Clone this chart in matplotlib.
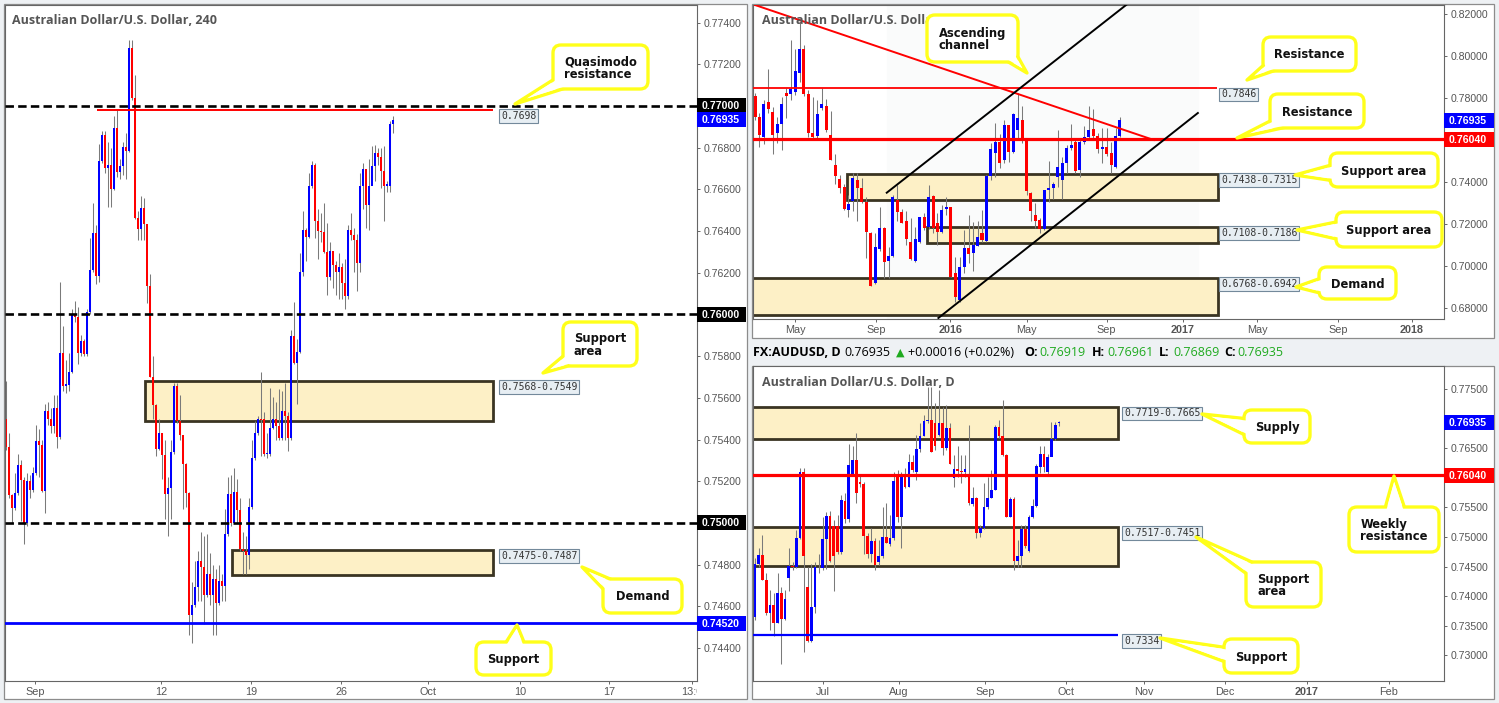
import numpy as np
import matplotlib
matplotlib.use("Agg")
import matplotlib.pyplot as plt
from matplotlib.patches import Rectangle, Polygon, FancyBboxPatch
from matplotlib.transforms import Bbox

# ---------------- 4 hour AUD/USD ----------------
h4_first_open = 0.75501
h4_close = [0.75364, 0.75133, 0.75072, 0.75143, 0.75276, 0.75205, 0.74998, 0.75203, 0.75159, 0.75239,
            0.75394, 0.75376, 0.75153, 0.75537, 0.75501, 0.75467, 0.75551, 0.75414, 0.75813, 0.75658,
            0.75662, 0.75726, 0.76004, 0.75988, 0.75817, 0.75873, 0.75809, 0.76010, 0.76215, 0.76392,
            0.76185, 0.76734, 0.76863, 0.76704, 0.76718, 0.76602, 0.76893, 0.76684, 0.76712, 0.76805,
            0.76783, 0.77276, 0.77040, 0.76461, 0.76412, 0.76511, 0.76433, 0.76135, 0.75702, 0.75567,
            0.75356, 0.75431, 0.75326, 0.75139, 0.75169, 0.75340, 0.75656, 0.75491, 0.75421, 0.75284,
            0.75145, 0.74559, 0.74606, 0.74692, 0.74817, 0.74787, 0.74656, 0.74757, 0.74656, 0.74732,
            0.74616, 0.74720, 0.74696, 0.74948, 0.75139, 0.74998, 0.75149, 0.75062, 0.74873, 0.74867,
            0.74847, 0.75078, 0.75310, 0.75431, 0.75501, 0.75497, 0.75330, 0.75330, 0.75457, 0.75501,
            0.75465, 0.75406, 0.75537, 0.75511, 0.75406, 0.75899, 0.75769, 0.75819, 0.76205, 0.76406,
            0.76370, 0.76614, 0.76718, 0.76447, 0.76400, 0.76396, 0.76302, 0.76181, 0.76306, 0.76239,
            0.76205, 0.76229, 0.76149, 0.76091, 0.76406, 0.76380, 0.76356, 0.76245, 0.76618, 0.76698,
            0.76527, 0.76614, 0.76712, 0.76773, 0.76753, 0.76688, 0.76618, 0.76618, 0.76913, 0.76935]
h4_high = [0.75682, 0.75431, 0.75139, 0.75239, 0.75330, 0.75300, 0.75219, 0.75239, 0.75229, 0.75270,
           0.75471, 0.75451, 0.75400, 0.75571, 0.75581, 0.75551, 0.75612, 0.75612, 0.76155, 0.75944,
           0.75783, 0.75813, 0.76024, 0.76064, 0.76034, 0.75903, 0.75883, 0.76024, 0.76366, 0.76537,
           0.76427, 0.76819, 0.76879, 0.76879, 0.76829, 0.76799, 0.76950, 0.76980, 0.76748, 0.76829,
           0.76869, 0.77316, 0.77316, 0.77151, 0.76497, 0.76567, 0.76557, 0.76205, 0.76195, 0.75803,
           0.75571, 0.75501, 0.75431, 0.75400, 0.75219, 0.75400, 0.75672, 0.75672, 0.75612, 0.75410,
           0.75290, 0.75149, 0.74716, 0.74817, 0.74867, 0.74958, 0.74938, 0.74948, 0.74857, 0.74797,
           0.74777, 0.74797, 0.74757, 0.75068, 0.75219, 0.75229, 0.75264, 0.75209, 0.75119, 0.74958,
           0.74938, 0.75119, 0.75400, 0.75491, 0.75511, 0.75722, 0.75531, 0.75431, 0.75646, 0.75602,
           0.75581, 0.75642, 0.75632, 0.75672, 0.75531, 0.75924, 0.76060, 0.75883, 0.76296, 0.76497,
           0.76416, 0.76678, 0.76738, 0.76728, 0.76507, 0.76487, 0.76537, 0.76437, 0.76346, 0.76306,
           0.76256, 0.76296, 0.76245, 0.76266, 0.76427, 0.76487, 0.76416, 0.76386, 0.76678, 0.76728,
           0.76698, 0.76748, 0.76809, 0.76813, 0.76799, 0.76799, 0.76809, 0.76638, 0.76930, 0.76954]
h4_low = [0.75350, 0.75119, 0.74998, 0.75062, 0.75135, 0.75008, 0.74897, 0.74988, 0.75119, 0.75149,
          0.75229, 0.75219, 0.75149, 0.75048, 0.75471, 0.75431, 0.75431, 0.75360, 0.75404, 0.75632,
          0.75622, 0.75632, 0.75718, 0.75964, 0.75763, 0.75803, 0.75803, 0.75803, 0.76004, 0.76205,
          0.76145, 0.76155, 0.76728, 0.76678, 0.76517, 0.76517, 0.76598, 0.76658, 0.76652, 0.76668,
          0.76648, 0.76779, 0.77030, 0.76457, 0.76356, 0.76356, 0.76356, 0.76054, 0.75702, 0.75501,
          0.75320, 0.75350, 0.75209, 0.75018, 0.74938, 0.75018, 0.75330, 0.75481, 0.75400, 0.75068,
          0.75078, 0.74465, 0.74425, 0.74596, 0.74626, 0.74626, 0.74515, 0.74646, 0.74606, 0.74465,
          0.74465, 0.74606, 0.74626, 0.74626, 0.74938, 0.74988, 0.74998, 0.74998, 0.74867, 0.74757,
          0.74757, 0.74777, 0.75068, 0.75304, 0.75421, 0.75320, 0.75320, 0.75310, 0.75320, 0.75451,
          0.75400, 0.75400, 0.75400, 0.75400, 0.75344, 0.75400, 0.75763, 0.75571, 0.75813, 0.76185,
          0.76256, 0.76366, 0.76608, 0.76366, 0.76266, 0.76346, 0.76296, 0.76095, 0.76165, 0.76125,
          0.76095, 0.76074, 0.76074, 0.76028, 0.76074, 0.76356, 0.76205, 0.76115, 0.76205, 0.76507,
          0.76416, 0.76406, 0.76648, 0.76638, 0.76718, 0.76608, 0.76447, 0.76588, 0.76588, 0.76869]
h4_day_labels = ["Sep", "12", "19", "26", "Oct", "10", "17", "13:0"]
h4_day_pos = [9.7, 51.7, 81.7, 111.7, 140.7, 171.3, 201.0, 228.7]
h4_ticks = [0.774, 0.772, 0.768, 0.766, 0.764, 0.762, 0.758, 0.756, 0.754, 0.752, 0.748, 0.746, 0.744]
h4_round_levels = [0.77, 0.76, 0.75]
h4_qm_res = 0.7698
h4_support = 0.7452
h4_support_area = (0.7568, 0.7549)
h4_demand = (0.7487, 0.7475)

# ---------------- weekly ----------------
wk_open = [0.7810, 0.7708, 0.7616, 0.7781, 0.7735, 0.7635, 0.7676, 0.7822, 0.7817, 0.7830,
           0.7921, 0.8032, 0.7819, 0.7635, 0.7619, 0.7751, 0.7762, 0.7624, 0.7481, 0.7413,
           0.7378, 0.7267, 0.7311, 0.7410, 0.7370, 0.7306, 0.7156, 0.6921, 0.7079, 0.7179,
           0.7025, 0.7048, 0.7314, 0.7259, 0.7216, 0.7116, 0.7025, 0.7116, 0.7232, 0.7184,
           0.7333, 0.7206, 0.7163, 0.7270, 0.7283, 0.6968, 0.6838, 0.6997, 0.7084, 0.7060,
           0.7095, 0.7156, 0.7121, 0.7429, 0.7540, 0.7592, 0.7505, 0.7671, 0.7544, 0.7648,
           0.7695, 0.7597, 0.7349, 0.7243, 0.7219, 0.7175, 0.7362, 0.7370, 0.7425, 0.7410,
           0.7492, 0.7560, 0.7592, 0.7457, 0.7592, 0.7616, 0.7651, 0.7619, 0.7556, 0.7565,
           0.7540, 0.7473, 0.7619]
wk_close = [0.7708, 0.7624, 0.7771, 0.7746, 0.7624, 0.7675, 0.7771, 0.7810, 0.7843, 0.7930,
            0.8032, 0.7819, 0.7635, 0.7616, 0.7724, 0.7771, 0.7648, 0.7505, 0.7429, 0.7373,
            0.7270, 0.7295, 0.7417, 0.7370, 0.7306, 0.7163, 0.6906, 0.7089, 0.7179, 0.7021,
            0.7048, 0.7327, 0.7259, 0.7206, 0.7127, 0.7032, 0.7127, 0.7232, 0.7179, 0.7327,
            0.7179, 0.7163, 0.7267, 0.7283, 0.6946, 0.6854, 0.6997, 0.7084, 0.7057, 0.7100,
            0.7140, 0.7124, 0.7429, 0.7556, 0.7592, 0.7492, 0.7671, 0.7544, 0.7724, 0.7703,
            0.7597, 0.7359, 0.7263, 0.7216, 0.7175, 0.7362, 0.7370, 0.7390, 0.7470, 0.7492,
            0.7560, 0.7576, 0.7454, 0.7592, 0.7616, 0.7648, 0.7619, 0.7556, 0.7565, 0.7533,
            0.7481, 0.7619, 0.76935]
wk_high = [0.7822, 0.7730, 0.7790, 0.7938, 0.7759, 0.7711, 0.7806, 0.7846, 0.8076, 0.8032,
           0.8163, 0.8052, 0.7838, 0.7806, 0.7790, 0.7846, 0.7794, 0.7740, 0.7533, 0.7433,
           0.7390, 0.7338, 0.7441, 0.7444, 0.7417, 0.7330, 0.7163, 0.7156, 0.7283, 0.7187,
           0.7092, 0.7338, 0.7386, 0.7270, 0.7263, 0.7227, 0.7187, 0.7235, 0.7251, 0.7386,
           0.7338, 0.7251, 0.7290, 0.7327, 0.7283, 0.7044, 0.7044, 0.7171, 0.7243, 0.7211,
           0.7216, 0.7267, 0.7433, 0.7587, 0.7679, 0.7629, 0.7695, 0.7671, 0.7727, 0.7825,
           0.7762, 0.7608, 0.7354, 0.7298, 0.7227, 0.7362, 0.7502, 0.7402, 0.7648, 0.7521,
           0.7576, 0.7676, 0.7608, 0.7608, 0.7667, 0.7762, 0.7746, 0.7632, 0.7656, 0.7656,
           0.7592, 0.7656, 0.7710]
wk_low = [0.7695, 0.7568, 0.7581, 0.7727, 0.7533, 0.7587, 0.7552, 0.7703, 0.7790, 0.7814,
          0.7878, 0.7810, 0.7616, 0.7603, 0.7608, 0.7743, 0.7640, 0.7505, 0.7390, 0.7349,
          0.7267, 0.7235, 0.7263, 0.7216, 0.7298, 0.7037, 0.6906, 0.6914, 0.7073, 0.6941,
          0.6941, 0.7041, 0.7216, 0.7203, 0.7100, 0.7029, 0.7021, 0.7111, 0.7171, 0.7175,
          0.7156, 0.7100, 0.7156, 0.7243, 0.6946, 0.6830, 0.6830, 0.6968, 0.7013, 0.6978,
          0.7095, 0.7116, 0.7116, 0.7410, 0.7425, 0.7465, 0.7489, 0.7497, 0.7537, 0.7608,
          0.7584, 0.7338, 0.7216, 0.7179, 0.7159, 0.7171, 0.7306, 0.7317, 0.7378, 0.7317,
          0.7441, 0.7552, 0.7441, 0.7422, 0.7581, 0.7603, 0.7600, 0.7537, 0.7492, 0.7524,
          0.7444, 0.7465, 0.7616]
wk_date_labels = ["May", "Sep", "2016", "May", "Sep", "2017", "May", "Sep", "2018"]
wk_date_pos = [9.0, 27.2, 43.9, 61.0, 79.0, 96.1, 112.8, 131.0, 147.6]
wk_ticks = [0.82, 0.80, 0.78, 0.74, 0.72, 0.70, 0.68]
wk_resistance = 0.7604
wk_resistance_top = 0.7846
wk_support_area1 = (0.7438, 0.7315)
wk_support_area2 = (0.7186, 0.7108)
wk_demand = (0.6942, 0.6768)

# ---------------- daily ----------------
d1_open = [0.7364, 0.7454, 0.7470, 0.7428, 0.7372, 0.7385, 0.7355, 0.7406, 0.7361, 0.7430,
           0.7451, 0.7449, 0.7498, 0.7609, 0.7415, 0.7324, 0.7382, 0.7449, 0.7447, 0.7496,
           0.7535, 0.7519, 0.7519, 0.7475, 0.7561, 0.7530, 0.7606, 0.7630, 0.7593, 0.7589,
           0.7502, 0.7472, 0.7493, 0.7458, 0.7468, 0.7500, 0.7488, 0.7498, 0.7606, 0.7533,
           0.7606, 0.7585, 0.7627, 0.7610, 0.7649, 0.7671, 0.7696, 0.7698, 0.7692, 0.7672,
           0.7692, 0.7651, 0.7684, 0.7599, 0.7615, 0.7612, 0.7610, 0.7606, 0.7555, 0.7565,
           0.7506, 0.7515, 0.7550, 0.7565, 0.7580, 0.7686, 0.7671, 0.7639, 0.7534, 0.7564,
           0.7459, 0.7467, 0.7514, 0.7476, 0.7533, 0.7553, 0.7619, 0.7640, 0.7610, 0.7635,
           0.7665, 0.76919]
d1_close = [0.7454, 0.7470, 0.7428, 0.7371, 0.7385, 0.7355, 0.7406, 0.7361, 0.7395, 0.7451,
            0.7449, 0.7499, 0.7609, 0.7468, 0.7324, 0.7382, 0.7450, 0.7450, 0.7496, 0.7535,
            0.7460, 0.7467, 0.7475, 0.7562, 0.7530, 0.7622, 0.7630, 0.7575, 0.7589, 0.7502,
            0.7472, 0.7493, 0.7453, 0.7468, 0.7500, 0.7490, 0.7498, 0.7595, 0.7533, 0.7606,
            0.7585, 0.7627, 0.7613, 0.7649, 0.7671, 0.7696, 0.7698, 0.7644, 0.7654, 0.7692,
            0.7651, 0.7684, 0.7624, 0.7615, 0.7612, 0.7610, 0.7615, 0.7558, 0.7565, 0.7506,
            0.7515, 0.7550, 0.7565, 0.7580, 0.7686, 0.7671, 0.7639, 0.7534, 0.7564, 0.7459,
            0.7467, 0.7514, 0.7484, 0.7533, 0.7553, 0.7620, 0.7640, 0.7619, 0.7635, 0.7665,
            0.7690, 0.76935]
d1_high = [0.7464, 0.7481, 0.7503, 0.7439, 0.7410, 0.7405, 0.7439, 0.7416, 0.7410, 0.7481,
           0.7458, 0.7512, 0.7616, 0.7616, 0.7450, 0.7455, 0.7458, 0.7472, 0.7534, 0.7543,
           0.7544, 0.7529, 0.7537, 0.7571, 0.7574, 0.7657, 0.7653, 0.7676, 0.7605, 0.7593,
           0.7506, 0.7515, 0.7498, 0.7495, 0.7551, 0.7557, 0.7537, 0.7610, 0.7613, 0.7610,
           0.7616, 0.7641, 0.7639, 0.7672, 0.7692, 0.7706, 0.7754, 0.7754, 0.7726, 0.7748,
           0.7720, 0.7723, 0.7692, 0.7639, 0.7653, 0.7639, 0.7639, 0.7689, 0.7585, 0.7568,
           0.7520, 0.7591, 0.7602, 0.7613, 0.7689, 0.7698, 0.7731, 0.7641, 0.7568, 0.7568,
           0.7495, 0.7520, 0.7520, 0.7537, 0.7564, 0.7623, 0.7653, 0.7653, 0.7641, 0.7695,
           0.7695, 0.76961]
d1_low = [0.7360, 0.7450, 0.7427, 0.7368, 0.7343, 0.7332, 0.7354, 0.7286, 0.7360, 0.7408,
          0.7444, 0.7447, 0.7496, 0.7305, 0.7323, 0.7323, 0.7372, 0.7439, 0.7444, 0.7445,
          0.7457, 0.7408, 0.7472, 0.7472, 0.7523, 0.7526, 0.7603, 0.7558, 0.7585, 0.7472,
          0.7464, 0.7458, 0.7444, 0.7453, 0.7464, 0.7489, 0.7484, 0.7495, 0.7526, 0.7481,
          0.7582, 0.7585, 0.7610, 0.7596, 0.7644, 0.7670, 0.7692, 0.7644, 0.7647, 0.7670,
          0.7639, 0.7647, 0.7623, 0.7585, 0.7602, 0.7591, 0.7602, 0.7554, 0.7552, 0.7499,
          0.7500, 0.7513, 0.7548, 0.7565, 0.7579, 0.7668, 0.7636, 0.7534, 0.7534, 0.7444,
          0.7450, 0.7450, 0.7481, 0.7475, 0.7532, 0.7551, 0.7608, 0.7610, 0.7605, 0.7644,
          0.7664, 0.76869]
d1_date_labels = ["Jul", "Aug", "Sep", "Oct", "Nov", "Dec", "2017", "Feb"]
d1_date_pos = [18.1, 38.4, 61.3, 82.9, 103.7, 125.2, 147.1, 168.9]
d1_ticks = [0.775, 0.765, 0.755, 0.750, 0.745, 0.740, 0.735, 0.730]
d1_supply = (0.7719, 0.7665)
d1_support_area = (0.7517, 0.7451)
d1_support = 0.7334
last_price = 0.76935

W, H = 1499, 703
BLUE, RED, WICK = "#0000ff", "#ff0000", "#7a7a7a"
ZONE_FC, ZONE_EC = "#fdf0c6", "#3a3422"
YEL = "#ffff1a"
TICKFONT = "Liberation Sans"

fig = plt.figure(figsize=(W / 100, H / 100), dpi=100, facecolor="#eef1f4")


def add_ax(x0, y0, x1, y1):
    return fig.add_axes([x0 / W, 1 - y1 / H, (x1 - x0) / W, (y1 - y0) / H])


def panel(x0, y0, x1, y1):
    fig.add_artist(Rectangle((x0 / W, 1 - y1 / H), (x1 - x0) / W, (y1 - y0) / H,
                             transform=fig.transFigure, fc="white", ec="#8c8c8c", lw=0.9, zorder=-5))


panel(4, 4, 747, 699)
panel(752, 4, 1494, 338)
panel(752, 366, 1494, 699)

ax1 = add_ax(5, 5, 697, 681)
axw = add_ax(753, 5, 1444, 319)
axd = add_ax(753, 366, 1444, 681)


def style(ax, ticks, date_pos, date_labels):
    for s in ax.spines.values():
        s.set_color("#666666")
        s.set_linewidth(0.8)
    ax.yaxis.tick_right()
    ax.set_yticks(ticks, ["%.5f" % t for t in ticks])
    ax.set_xticks(date_pos, date_labels)
    ax.tick_params(axis="y", direction="out", length=2.5, width=0.7, pad=2.5, colors="#666666",
                   labelcolor="#555555", labelsize=7.6)
    ax.tick_params(axis="x", direction="out", length=2.5, width=0.7, pad=1.5, colors="#666666",
                   labelcolor="#555555", labelsize=7.8)
    for lab in ax.get_xticklabels() + ax.get_yticklabels():
        lab.set_fontfamily(TICKFONT)
        if lab.get_text().isdigit() and len(lab.get_text()) == 4:
            lab.set_fontweight("bold")


def candles(ax, o, h, l, c, width):
    o, h, l, c = map(np.asarray, (o, h, l, c))
    x = np.arange(len(o))
    ax.vlines(x, l, h, color=WICK, lw=0.75, zorder=2)
    body = c - o
    rng = ax.get_ylim()[1] - ax.get_ylim()[0]
    body = np.where(np.abs(body) < rng * 0.002, np.where(body >= 0, 1, -1) * rng * 0.002, body)
    ax.bar(x, body, bottom=o, width=width, color=np.where(c >= o, BLUE, RED), lw=0, zorder=2.5)


def zone(ax, x0, x1, top, bottom):
    ax.add_patch(Rectangle((x0, bottom), x1 - x0, top - bottom, fc=ZONE_FC, ec=ZONE_EC, lw=2.0, zorder=1))


def tag(ax, x, y, text, dx):
    ax.annotate(text, xy=(x, y), xytext=(dx, -1), textcoords="offset pixels", ha="left", va="top",
                fontsize=7, family="DejaVu Sans Mono", color="#333333", zorder=6,
                bbox=dict(boxstyle="square,pad=0.18", fc="#e7eef3", ec="#73899b", lw=0.8))


# ---------------- 4h panel ----------------
ax1.set_xlim(-0.33, 230.33)
ax1.set_ylim(0.742422, 0.774844)
h4_open = [h4_first_open] + h4_close[:-1]
candles(ax1, h4_open, h4_high, h4_low, h4_close, 0.8)
for lv in h4_round_levels:
    ax1.axhline(lv, color="black", lw=1.9, ls=(0, (3.2, 1.6)), zorder=3)
ax1.hlines(h4_qm_res, 30.3, 162.3, color=RED, lw=1.4, zorder=3)
ax1.axhline(h4_support, color=BLUE, lw=2.0, zorder=3)
zone(ax1, 46.3, 162.3, *h4_support_area)
zone(ax1, 75.3, 162.3, *h4_demand)
tag(ax1, 162.3, h4_qm_res, "%.4f" % h4_qm_res, 8)
tag(ax1, 162.3, h4_support_area[0], "%.4f-%.4f" % h4_support_area, 8)
tag(ax1, 162.3, h4_demand[0], "%.4f-%.4f" % (h4_demand[1], h4_demand[0]), 8)
style(ax1, h4_ticks, h4_day_pos, h4_day_labels)
for lab in ax1.get_xticklabels():
    lab.set_clip_on(True)
    lab.set_clip_box(Bbox.from_extents(0, 0, 697, H))

# ---------------- weekly panel ----------------
axw.set_xlim(-0.45, 154.8)
axw.set_ylim(0.674762, 0.824286)
axw.axvspan(29.7, 99.5, color="#fafbfb", zorder=0)
zone(axw, -0.6, 104.0, *wk_demand)
zone(axw, 20.7, 104.0, *wk_support_area1)
zone(axw, 38.7, 104.0, *wk_support_area2)
candles(axw, wk_open, wk_high, wk_low, wk_close, 0.68)
axw.axhline(wk_resistance, color=RED, lw=2.3, zorder=3)
axw.hlines(wk_resistance_top, -0.5, 103.8, color=RED, lw=1.3, zorder=3)
axw.plot([0, 89.6], [0.824286, 0.7600], color=RED, lw=1.4, zorder=3)
axw.plot([29.6, 83.95], [0.7349, 0.82524], color="black", lw=1.4, zorder=3, clip_on=True)
axw.plot([41.2, 99.5], [0.67524, 0.77286], color="black", lw=1.4, zorder=3)
tag(axw, 104.0, wk_resistance_top, "%.4f" % wk_resistance_top, 3)
tag(axw, 104.0, wk_support_area1[0], "%.4f-%.4f" % wk_support_area1, 3)
tag(axw, 104.0, wk_support_area2[0], "%.4f-%.4f" % (wk_support_area2[1], wk_support_area2[0]), 3)
tag(axw, 104.0, wk_demand[0], "%.4f-%.4f" % (wk_demand[1], wk_demand[0]), 3)
style(axw, wk_ticks, wk_date_pos, wk_date_labels)

# ---------------- daily panel ----------------
axd.set_xlim(-0.53, 183.6)
axd.set_ylim(0.725659, 0.778886)
zone(axd, -0.8, 96.7, *d1_supply)
zone(axd, -0.8, 96.7, *d1_support_area)
candles(axd, d1_open, d1_high, d1_low, d1_close, 0.72)
axd.axhline(wk_resistance, color=RED, lw=2.3, zorder=3)
axd.hlines(d1_support, -0.6, 96.7, color=BLUE, lw=1.6, zorder=3)
tag(axd, 96.7, d1_supply[0], "%.4f-%.4f" % d1_supply, 6)
tag(axd, 96.7, d1_support_area[0], "%.4f-%.4f" % d1_support_area, 6)
tag(axd, 96.7, d1_support, "%.4f" % d1_support, 6)
style(axd, d1_ticks, d1_date_pos, d1_date_labels)

# ---------------- overlay in pixel units ----------------
ov = fig.add_axes([0, 0, 1, 1], zorder=10)
ov.set_xlim(0, W)
ov.set_ylim(H, 0)
ov.axis("off")
ov.patch.set_alpha(0)


def ypx(ax, v):
    return H - ax.transData.transform((0, v))[1]


def price_box(ax, v, text, fc, x0, x1):
    y = ypx(ax, v)
    ov.add_patch(Rectangle((x0, y - 7.5), x1 - x0, 15, fc=fc, ec="none", zorder=5))
    ov.text(x0 + 5, y + 0.5, text, ha="left", va="center", color="white", fontsize=7.6,
            family=TICKFONT, fontweight="bold", zorder=6)


for lv in h4_round_levels:
    price_box(ax1, lv, "%.5f" % lv, "black", 697, 746)
price_box(ax1, last_price, "%.5f" % last_price, BLUE, 697, 746)
price_box(ax1, h4_support, "%.5f" % h4_support, BLUE, 697, 746)
price_box(axw, last_price, "%.5f" % last_price, BLUE, 1444, 1494)
price_box(axw, wk_resistance, "%.5f" % wk_resistance, RED, 1444, 1494)
price_box(axd, last_price, "%.5f" % last_price, BLUE, 1444, 1494)
price_box(axd, wk_resistance, "%.5f" % wk_resistance, RED, 1444, 1494)


def inset_tri(pts, d):
    A, B, C = [np.array(p, float) for p in pts]
    a, b, c = np.linalg.norm(B - C), np.linalg.norm(C - A), np.linalg.norm(A - B)
    I = (a * A + b * B + c * C) / (a + b + c)
    area = abs((B - A)[0] * (C - A)[1] - (B - A)[1] * (C - A)[0]) / 2
    r = area / ((a + b + c) / 2)
    k = max(r - d, 0.2) / r
    return [I + (P - I) * k for P in (A, B, C)]


def callout(box, tip, b1, b2, text):
    x0, y0, x1, y1 = box
    tri = [b1, b2, tip]
    ov.add_patch(Polygon(tri, closed=True, fc="white", ec=YEL, lw=2.4, zorder=20, joinstyle="round"))
    ov.add_patch(FancyBboxPatch((x0, y0), x1 - x0, y1 - y0, boxstyle="round,pad=0,rounding_size=8",
                                fc="white", ec=YEL, lw=2.4, zorder=21))
    ov.add_patch(Polygon(inset_tri(tri, 1.8), closed=True, fc="white", ec="none", zorder=22))
    ov.text((x0 + x1) / 2, (y0 + y1) / 2 + 1, text, ha="center", va="center", multialignment="left",
            fontsize=8.3, fontweight="bold", color="#111111", linespacing=0.95, zorder=23)


callout((553, 45, 648, 89), (515, 104), (556, 78), (572, 86), "Quasimodo\nresistance")
callout((563, 322, 637, 366), (543, 373), (568, 352), (586, 361), "Support\narea")
callout((603, 579, 682, 613), (582, 567), (607, 593), (622, 584), "Demand")
callout((476, 642, 551, 675), (517, 625), (503, 647), (526, 647), "Support")
callout((927, 15, 1018, 62), (1027, 73), (1000, 57), (1013, 48), "Ascending\nchannel")
callout((1263, 37, 1356, 71), (1247, 80), (1267, 62), (1285, 67), "Resistance")
callout((1270, 94, 1364, 128), (1237, 138), (1276, 118), (1300, 124), "Resistance")
callout((1330, 153, 1438, 187), (1295, 175), (1335, 164), (1335, 181), "Support area")
callout((1336, 212, 1442, 247), (1297, 230), (1341, 221), (1341, 240), "Support area")
callout((1319, 267, 1396, 299), (1296, 287), (1324, 277), (1324, 294), "Demand")
callout((1244, 410, 1310, 443), (1202, 414), (1249, 419), (1249, 437), "Supply")
callout((1246, 562, 1321, 607), (1196, 537), (1251, 577), (1263, 567), "Support\narea")
callout((1224, 639, 1298, 673), (1160, 638), (1229, 648), (1231, 664), "Support")
callout((1349, 507, 1439, 552), (1394, 476), (1384, 512), (1406, 512), "Weekly\nresistance")

# titles
for x, y, t in [(12, 21, "Australian Dollar/U.S. Dollar, 240"),
                (762, 21, "Australian Dollar/U.S. Dollar, W"),
                (762, 383, "Australian Dollar/U.S. Dollar, D")]:
    ov.text(x, y, t, ha="left", va="center", fontsize=9, family="Open Sans", fontweight="bold",
            color="#555555", zorder=15)

# daily header line
GREEN = "#1faa1f"
hdr = [(753, "FX:AUDUSD, D", "black", "bold"),
       (844, "0.76935", "black", "normal"),
       (908, "+0.00016 (+0.02%)", "black", "normal"),
       (1024, "O:", "black", "bold"), (1039, "0.76919", GREEN, "normal"),
       (1092, "H:", "black", "bold"), (1107, "0.76961", GREEN, "normal"),
       (1159, "L:", "black", "bold"), (1173, "0.76869", GREEN, "normal"),
       (1224, "C:", "black", "bold"), (1237, "0.76935", GREEN, "normal")]
for x, t, col, wt in hdr:
    ov.text(x, 352.5, t, ha="left", va="center", fontsize=9, family="Open Sans", fontweight=wt,
            color=col, zorder=15)
ov.text(896, 352.5, "\u25b2", ha="left", va="center", fontsize=8, family="DejaVu Sans", color=GREEN,
        zorder=15)

fig.savefig("out.png", dpi=100, facecolor=fig.get_facecolor())
